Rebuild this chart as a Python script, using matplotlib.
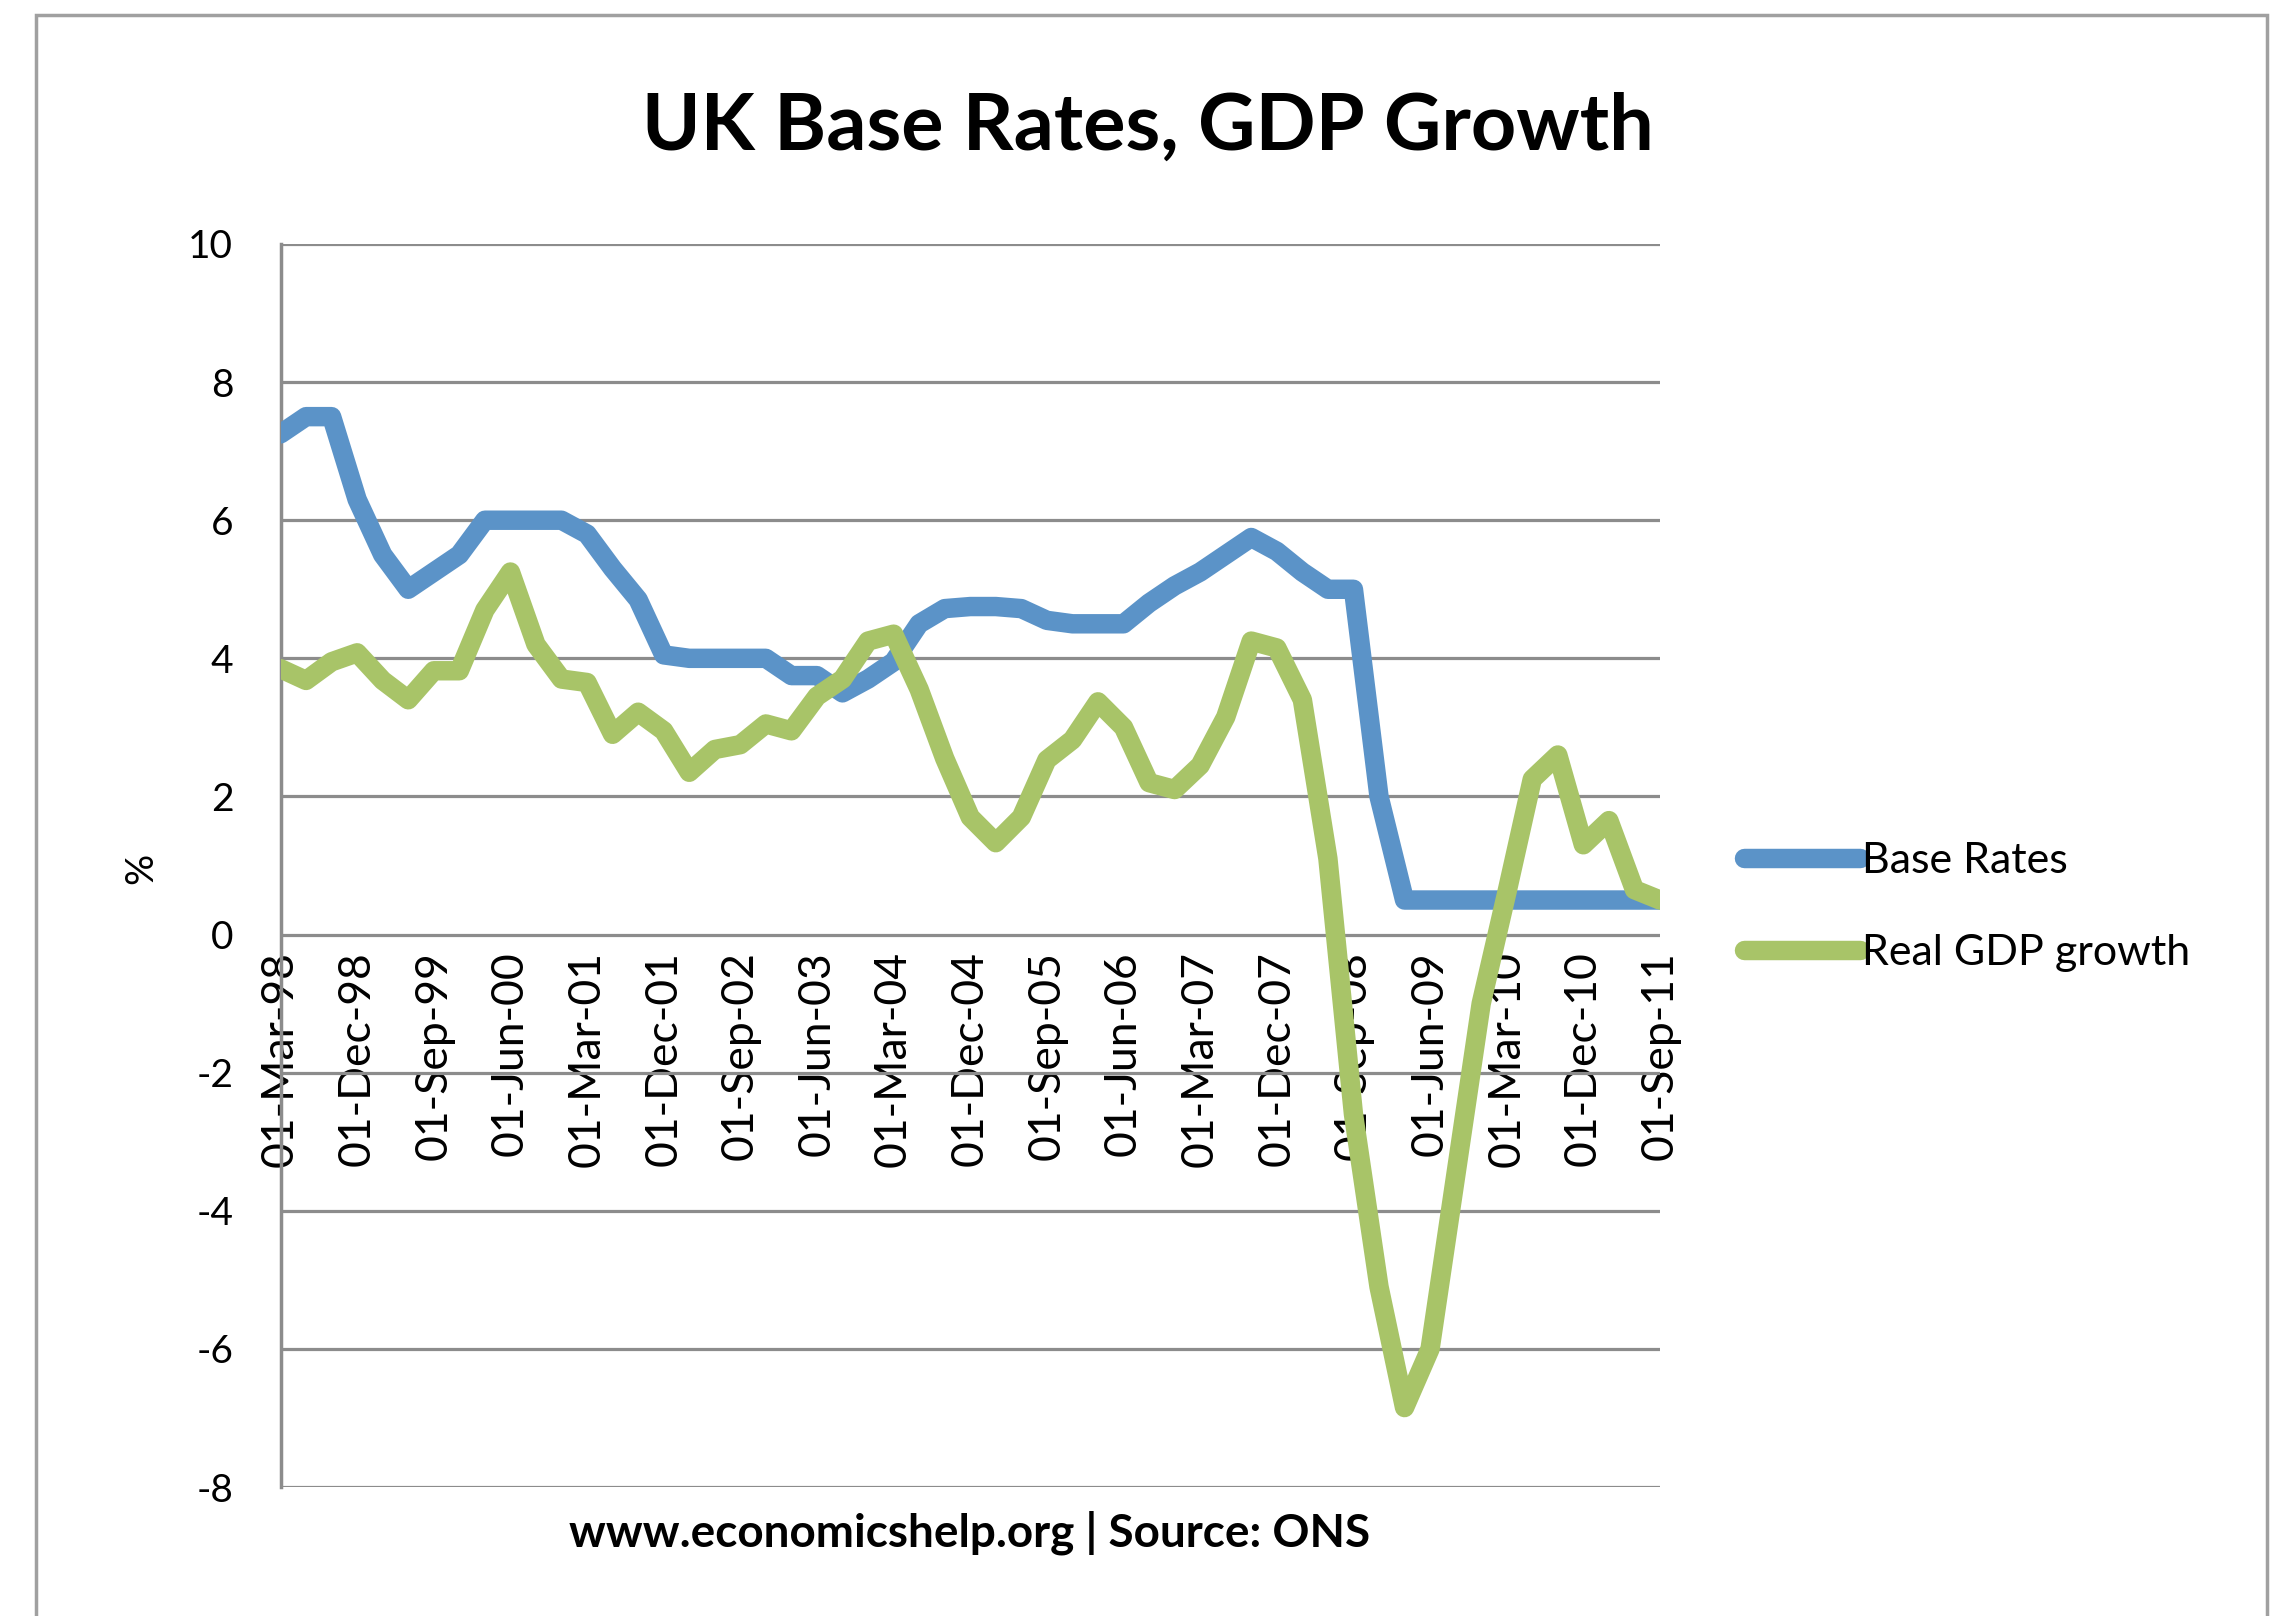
import matplotlib
matplotlib.use('Agg')
import matplotlib.pyplot as plt
from matplotlib.patches import Rectangle
import numpy as np

plt.rcParams['font.family'] = ['Lato', 'DejaVu Sans']
plt.rcParams['axes.unicode_minus'] = False

# quarterly readings, Mar-98 .. Sep-11
base_rates = [7.25, 7.5, 7.5, 6.3, 5.5, 5.0, 5.25, 5.5, 6.0, 6.0,
              6.0, 6.0, 5.8, 5.3, 4.85, 4.05, 4.0, 4.0, 4.0, 4.0,
              3.75, 3.75, 3.5, 3.7, 3.95, 4.5, 4.72, 4.75, 4.75, 4.72,
              4.55, 4.5, 4.5, 4.5, 4.8, 5.05, 5.25, 5.5, 5.75, 5.55,
              5.25, 5.0, 5.0, 2.0, 0.5, 0.5, 0.5, 0.5, 0.5, 0.5,
              0.5, 0.5, 0.5, 0.5, 0.5]
gdp_growth = [3.85, 3.68, 3.95, 4.08, 3.68, 3.4, 3.82, 3.82, 4.7, 5.25,
              4.2, 3.7, 3.65, 2.9, 3.22, 2.95, 2.35, 2.68, 2.75, 3.05,
              2.95, 3.45, 3.7, 4.25, 4.35, 3.55, 2.55, 1.7, 1.33, 1.7,
              2.53, 2.82, 3.37, 3.0, 2.2, 2.1, 2.45, 3.15, 4.25, 4.15,
              3.4, 1.1, -2.6, -5.1, -6.85, -6.0, -3.5, -1.0, 0.6, 2.25,
              2.6, 1.3, 1.65, 0.65, 0.5]
tick_labels = ['01-Mar-98', '01-Dec-98', '01-Sep-99', '01-Jun-00', '01-Mar-01',
               '01-Dec-01', '01-Sep-02', '01-Jun-03', '01-Mar-04', '01-Dec-04',
               '01-Sep-05', '01-Jun-06', '01-Mar-07', '01-Dec-07', '01-Sep-08',
               '01-Jun-09', '01-Mar-10', '01-Dec-10', '01-Sep-11']

W, H = 2279, 1616
fig = plt.figure(figsize=(W / 100, H / 100), dpi=100)
fig.patch.set_facecolor('white')

# chart frame
fig.patches.append(Rectangle((36 / W, -0.05), (2267 - 36) / W, 1.05 - 15 / H,
                             transform=fig.transFigure, fill=False,
                             edgecolor='#a0a0a0', lw=2.5, zorder=0))

ax = fig.add_axes([280.5 / W, 1 - 1487 / H, (1660 - 280.5) / W, (1487 - 244) / H])

x = np.arange(len(base_rates))
ax.plot(x, base_rates, color='#5b93c8', lw=14, solid_joinstyle='round',
        solid_capstyle='round', label='Base Rates', zorder=3)
ax.plot(x, gdp_growth, color='#a8c468', lw=14, solid_joinstyle='round',
        solid_capstyle='round', label='Real GDP growth', zorder=4)

ax.set_xlim(0, len(x) - 1)
ax.set_ylim(-8, 10)

# category axis crosses at zero
ax.spines['bottom'].set_position(('data', 0))
ax.spines['bottom'].set_visible(False)
for side in ['top', 'right']:
    ax.spines[side].set_visible(False)
ax.spines['left'].set_color('#8c8c8c')
ax.spines['left'].set_linewidth(2.5)

ax.set_yticks(range(-8, 11, 2))
ax.set_xticks(x[::3])
ax.set_xticklabels(tick_labels)

ax.grid(axis='y', color='#8c8c8c', lw=2.3)
ax.set_axisbelow(True)
ax.tick_params(axis='both', length=0, labelsize=28, colors='black')
ax.tick_params(axis='y', pad=34)
ax.tick_params(axis='x', pad=12, labelrotation=90, labelsize=32)

fig.text(141 / W, 1 - 868 / H, '%', rotation=90, ha='center', va='center', fontsize=28)
fig.text(1148 / W, 1 - 128 / H, 'UK Base Rates, GDP Growth', ha='center', va='center',
         fontsize=57, fontweight='bold')
fig.text(970 / W, 1 - 1533 / H, 'www.economicshelp.org | Source: ONS', ha='center',
         va='center', fontsize=33, fontweight='bold')

ax.legend(loc='center left', bbox_to_anchor=(1744 / W, 1 - 907 / H),
          bbox_transform=fig.transFigure, frameon=False, fontsize=31,
          handlelength=2.7, handletextpad=0.05, labelspacing=1.25,
          borderpad=0, borderaxespad=0)

fig.savefig('out.png', dpi=100)
